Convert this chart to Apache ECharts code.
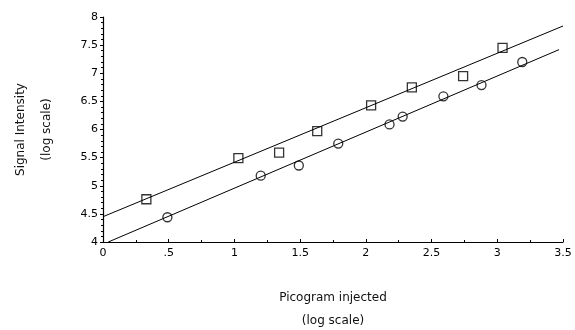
<!DOCTYPE html>
<html>
<head>
<meta charset="utf-8">
<script src="https://cdn.jsdelivr.net/npm/echarts@6/dist/echarts.min.js"></script>
<style>
  html, body { margin: 0; padding: 0; background: #fff; }
  #chart { width: 575px; height: 330px; }
</style>
</head>
<body>
<div id="chart"></div>
<script>
// picogram injected (log) vs signal intensity (log)
var squareX = [0.33, 1.03, 1.34, 1.63, 2.04, 2.35, 2.74, 3.04];
var squareY = [4.76, 5.49, 5.59, 5.97, 6.43, 6.75, 6.95, 7.45];
var circleX = [0.49, 1.2, 1.49, 1.79, 2.18, 2.28, 2.59, 2.88, 3.19];
var circleY = [4.44, 5.18, 5.36, 5.75, 6.09, 6.23, 6.59, 6.79, 7.2];

// fitted lines, end points
var squareFitX = [0, 3.5];
var squareFitY = [4.45, 7.84];
var circleFitX = [0.04, 3.47];
var circleFitY = [4.0, 7.42];

var xTickLabels = { 0: '0', 0.5: '.5', 1: '1', 1.5: '1.5', 2: '2', 2.5: '2.5', 3: '3', 3.5: '3.5' };

function pairs(xs, ys) {
  return xs.map(function (x, i) { return [x, ys[i]]; });
}

var chart = echarts.init(document.getElementById('chart'));
var font = 'DejaVu Sans';

var option = {
  backgroundColor: '#fff',
  animation: false,
  grid: { left: 103, right: 12, top: 17, bottom: 88, containLabel: false, outerBoundsMode: 'none' },
  xAxis: {
    type: 'value',
    min: 0, max: 3.5, interval: 0.5,
    name: 'Picogram injected\n(log scale)',
    nameLocation: 'middle',
    nameGap: 44,
    nameTextStyle: { color: '#111', fontFamily: font, fontSize: 12, lineHeight: 23 },
    axisLine: { lineStyle: { color: '#000', width: 1.2 } },
    axisTick: { inside: true, length: 3, lineStyle: { color: '#000' } },
    minorTick: { show: true, splitNumber: 2, length: 2, lineStyle: { color: '#000' } },
    axisLabel: {
      color: '#000', fontFamily: font, fontSize: 11, margin: 6,
      formatter: function (v) { return xTickLabels[v] !== undefined ? xTickLabels[v] : v; }
    },
    splitLine: { show: false }
  },
  yAxis: {
    type: 'value',
    min: 4, max: 8, interval: 0.5,
    name: 'Signal Intensity\n(log scale)',
    nameLocation: 'middle',
    nameRotate: 90,
    nameGap: 43,
    nameTextStyle: { color: '#111', fontFamily: font, fontSize: 12, lineHeight: 26 },
    axisLine: { show: true, lineStyle: { color: '#000', width: 1.2 } },
    axisTick: { show: true, length: 3, lineStyle: { color: '#000' } },
    minorTick: { show: true, splitNumber: 5, length: 2, lineStyle: { color: '#000' } },
    axisLabel: { color: '#000', fontFamily: font, fontSize: 11, margin: 5 },
    splitLine: { show: false }
  },
  series: [
    {
      type: 'line', data: pairs(squareFitX, squareFitY), symbol: 'none',
      lineStyle: { color: '#000', width: 1 }, silent: true
    },
    {
      type: 'line', data: pairs(circleFitX, circleFitY), symbol: 'none',
      lineStyle: { color: '#000', width: 1 }, silent: true
    },
    {
      type: 'scatter', data: pairs(squareX, squareY), symbol: 'rect', symbolSize: 9,
      itemStyle: { color: '#fff', borderColor: '#000', borderWidth: 1.3 }
    },
    {
      type: 'scatter', data: pairs(circleX, circleY), symbol: 'circle', symbolSize: 9,
      itemStyle: { color: '#fff', borderColor: '#000', borderWidth: 1.3 }
    }
  ]
};

chart.setOption(option);
</script>
</body>
</html>
